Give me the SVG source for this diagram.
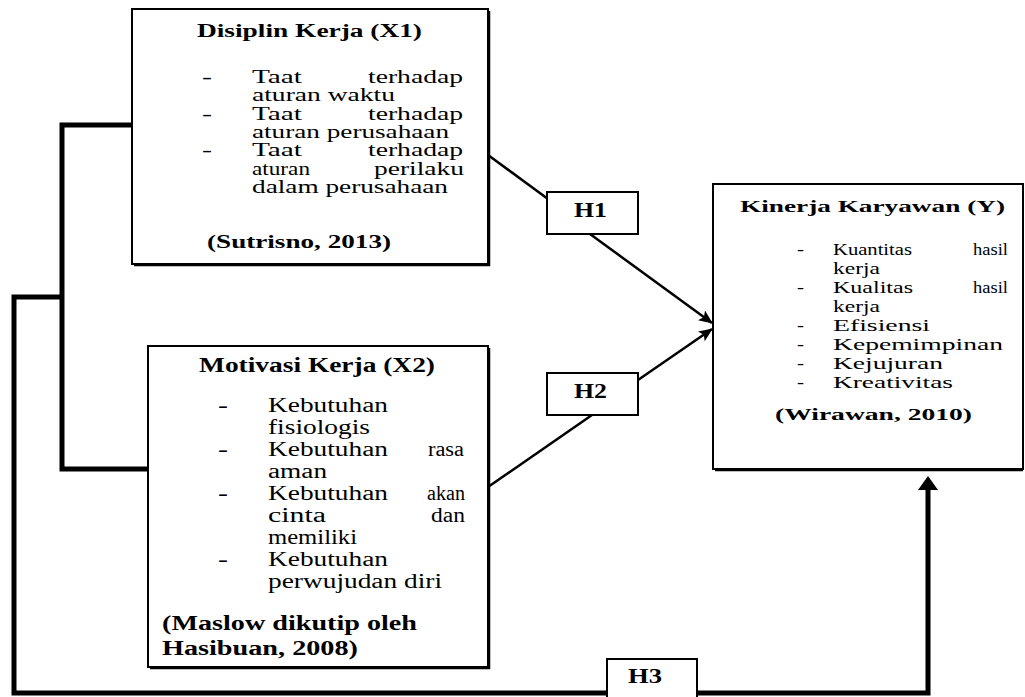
<svg xmlns="http://www.w3.org/2000/svg" width="1025" height="697" viewBox="0 0 1025 697">
<defs>
<style>
.box{fill:#fff;stroke:#000;stroke-width:2}
.sh{fill:none;stroke:#000;stroke-width:1.5}
.thick{fill:none;stroke:#000;stroke-width:5;stroke-linejoin:miter}
.thin{fill:none;stroke:#000;stroke-width:2.5}
text{font-family:"Liberation Serif","Times New Roman",serif;fill:#000}
.b{font-weight:bold}
.t1{font-size:18px}
.t2{font-size:20px}
.t3{font-size:16.5px}
.h{font-size:20px;font-weight:bold}
</style>
<marker id="ah" viewBox="0 0 14 12" refX="13" refY="6" markerWidth="14" markerHeight="12" markerUnits="userSpaceOnUse" orient="auto">
<path d="M0,0 L14,6 L0,12 L3,6 z" fill="#000"/>
</marker>
</defs>

<g id="connectors">
<path class="thick" d="M131,125 H62 V469 H148"/>
<path class="thick" d="M62,297 H14 V693 H928 V490"/>
<path d="M918,490 L928,476 L938,490 z" fill="#000"/>
<line class="thin" x1="488" y1="155" x2="548" y2="199"/>
<line class="thin" x1="590" y1="234" x2="712" y2="323" marker-end="url(#ah)"/>
<line class="thin" x1="488" y1="487" x2="592" y2="415"/>
<line class="thin" x1="638" y1="380" x2="712" y2="329" marker-end="url(#ah)"/>
</g>

<g id="X1">
<rect class="box" x="132" y="9" width="356" height="255"/>
<path class="sh" d="M489.5,11 V265.5 H134"/>
<text class="t1 b" x="197" y="37" textLength="225" lengthAdjust="spacingAndGlyphs">Disiplin Kerja (X1)</text>
<g class="t1">
<text x="202" y="83" textLength="10" lengthAdjust="spacingAndGlyphs">-</text>
<text x="252" y="83" textLength="50" lengthAdjust="spacingAndGlyphs">Taat</text>
<text x="368" y="83" textLength="95" lengthAdjust="spacingAndGlyphs">terhadap</text>
<text x="252" y="101" textLength="143" lengthAdjust="spacingAndGlyphs">aturan waktu</text>
<text x="202" y="119.5" textLength="10" lengthAdjust="spacingAndGlyphs">-</text>
<text x="252" y="119.5" textLength="50" lengthAdjust="spacingAndGlyphs">Taat</text>
<text x="368" y="119.5" textLength="95" lengthAdjust="spacingAndGlyphs">terhadap</text>
<text x="252" y="138" textLength="197" lengthAdjust="spacingAndGlyphs">aturan perusahaan</text>
<text x="202" y="156" textLength="10" lengthAdjust="spacingAndGlyphs">-</text>
<text x="252" y="156" textLength="50" lengthAdjust="spacingAndGlyphs">Taat</text>
<text x="368" y="156" textLength="95" lengthAdjust="spacingAndGlyphs">terhadap</text>
<text x="252" y="174.5" textLength="58" lengthAdjust="spacingAndGlyphs">aturan</text>
<text x="374" y="174.5" textLength="90" lengthAdjust="spacingAndGlyphs">perilaku</text>
<text x="252" y="193" textLength="196" lengthAdjust="spacingAndGlyphs">dalam perusahaan</text>
</g>
<text class="t1 b" x="207" y="248" textLength="184" lengthAdjust="spacingAndGlyphs">(Sutrisno, 2013)</text>
</g>

<g id="X2">
<rect class="box" x="148" y="346" width="340" height="321"/>
<path class="sh" d="M489.5,348 V668.5 H150"/>
<text class="t2 b" x="199" y="372" textLength="236" lengthAdjust="spacingAndGlyphs">Motivasi Kerja (X2)</text>
<g class="t2">
<text x="218" y="412" textLength="10" lengthAdjust="spacingAndGlyphs">-</text>
<text x="268" y="412" textLength="120" lengthAdjust="spacingAndGlyphs">Kebutuhan</text>
<text x="268" y="434" textLength="102" lengthAdjust="spacingAndGlyphs">fisiologis</text>
<text x="218" y="456" textLength="10" lengthAdjust="spacingAndGlyphs">-</text>
<text x="268" y="456" textLength="120" lengthAdjust="spacingAndGlyphs">Kebutuhan</text>
<text x="428" y="456" textLength="36" lengthAdjust="spacingAndGlyphs">rasa</text>
<text x="268" y="478" textLength="59" lengthAdjust="spacingAndGlyphs">aman</text>
<text x="218" y="500" textLength="10" lengthAdjust="spacingAndGlyphs">-</text>
<text x="268" y="500" textLength="120" lengthAdjust="spacingAndGlyphs">Kebutuhan</text>
<text x="427" y="500" textLength="38" lengthAdjust="spacingAndGlyphs">akan</text>
<text x="268" y="522" textLength="58" lengthAdjust="spacingAndGlyphs">cinta</text>
<text x="431" y="522" textLength="34" lengthAdjust="spacingAndGlyphs">dan</text>
<text x="268" y="544" textLength="89" lengthAdjust="spacingAndGlyphs">memiliki</text>
<text x="218" y="566" textLength="10" lengthAdjust="spacingAndGlyphs">-</text>
<text x="268" y="566" textLength="120" lengthAdjust="spacingAndGlyphs">Kebutuhan</text>
<text x="268" y="588" textLength="174" lengthAdjust="spacingAndGlyphs">perwujudan diri</text>
</g>
<text class="t2 b" x="162" y="630" textLength="255" lengthAdjust="spacingAndGlyphs">(Maslow dikutip oleh</text>
<text class="t2 b" x="162" y="655" textLength="196" lengthAdjust="spacingAndGlyphs">Hasibuan, 2008)</text>
</g>

<g id="Y">
<rect class="box" x="713" y="184" width="310" height="285"/>
<path class="sh" d="M715,470.5 H1023"/>
<text class="t3 b" x="740" y="212" textLength="265" lengthAdjust="spacingAndGlyphs">Kinerja Karyawan (Y)</text>
<g class="t3">
<text x="797" y="255" textLength="7" lengthAdjust="spacingAndGlyphs">-</text>
<text x="833" y="255" textLength="79" lengthAdjust="spacingAndGlyphs">Kuantitas</text>
<text x="973" y="255" textLength="35" lengthAdjust="spacingAndGlyphs">hasil</text>
<text x="833" y="274" textLength="47" lengthAdjust="spacingAndGlyphs">kerja</text>
<text x="797" y="293" textLength="7" lengthAdjust="spacingAndGlyphs">-</text>
<text x="833" y="293" textLength="80" lengthAdjust="spacingAndGlyphs">Kualitas</text>
<text x="973" y="293" textLength="35" lengthAdjust="spacingAndGlyphs">hasil</text>
<text x="833" y="312" textLength="47" lengthAdjust="spacingAndGlyphs">kerja</text>
<text x="797" y="331" textLength="7" lengthAdjust="spacingAndGlyphs">-</text>
<text x="833" y="331" textLength="97" lengthAdjust="spacingAndGlyphs">Efisiensi</text>
<text x="797" y="350" textLength="7" lengthAdjust="spacingAndGlyphs">-</text>
<text x="833" y="350" textLength="170" lengthAdjust="spacingAndGlyphs">Kepemimpinan</text>
<text x="797" y="369" textLength="7" lengthAdjust="spacingAndGlyphs">-</text>
<text x="833" y="369" textLength="110" lengthAdjust="spacingAndGlyphs">Kejujuran</text>
<text x="797" y="388" textLength="7" lengthAdjust="spacingAndGlyphs">-</text>
<text x="833" y="388" textLength="120" lengthAdjust="spacingAndGlyphs">Kreativitas</text>
</g>
<text class="t3 b" x="775" y="420" textLength="197" lengthAdjust="spacingAndGlyphs">(Wirawan, 2010)</text>
</g>

<g id="H1">
<rect class="box" x="547" y="192" width="91" height="42"/>
<text class="h" x="574" y="217" textLength="33" lengthAdjust="spacingAndGlyphs">H1</text>
</g>
<g id="H2">
<rect class="box" x="547" y="373" width="91" height="42"/>
<text class="h" x="574" y="398" textLength="33" lengthAdjust="spacingAndGlyphs">H2</text>
</g>
<g id="H3">
<rect class="box" x="607" y="659" width="90" height="44"/>
<text class="h" x="628" y="683" textLength="34" lengthAdjust="spacingAndGlyphs">H3</text>
</g>
</svg>
